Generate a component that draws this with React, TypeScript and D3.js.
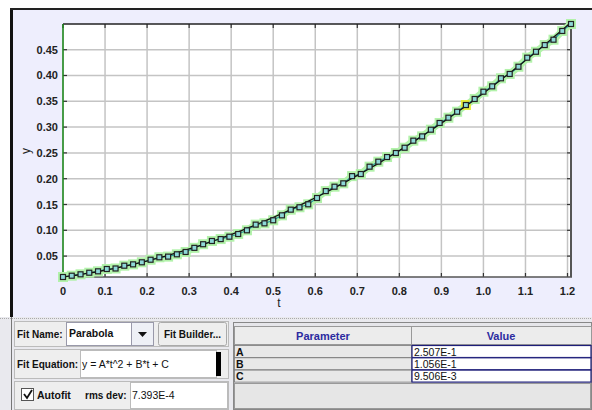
import React from "react";
import * as d3 from "d3";

// Measured samples (s) and positions (m)
const times = [
  0, 0.0208, 0.0417, 0.0625, 0.0833, 0.1042, 0.125, 0.1458, 0.1667, 0.1875,
  0.2083, 0.2292, 0.25, 0.2708, 0.2917, 0.3125, 0.3333, 0.3542, 0.375, 0.3958,
  0.4167, 0.4375, 0.4583, 0.4792, 0.5, 0.5208, 0.5417, 0.5625, 0.5833, 0.6042,
  0.625, 0.6458, 0.6667, 0.6875, 0.7083, 0.7292, 0.75, 0.7708, 0.7917, 0.8125,
  0.8333, 0.8542, 0.875, 0.8958, 0.9167, 0.9375, 0.9583, 0.9792, 1.0, 1.0208,
  1.0417, 1.0625, 1.0833, 1.1042, 1.125, 1.1458, 1.1667, 1.1875, 1.2083,
];
const positions = [
  0.0095, 0.012, 0.0147, 0.0178, 0.0205, 0.025, 0.026, 0.0314, 0.034, 0.038,
  0.043, 0.0477, 0.049, 0.0535, 0.058, 0.066, 0.073, 0.0793, 0.083, 0.0876,
  0.0928, 0.1, 0.111, 0.1135, 0.1194, 0.129, 0.14, 0.1446, 0.1504, 0.1626,
  0.176, 0.1845, 0.191, 0.205, 0.2091, 0.2233, 0.233, 0.242, 0.2498, 0.26,
  0.2737, 0.282, 0.295, 0.308, 0.3182, 0.3298, 0.3428, 0.3545, 0.3686, 0.379,
  0.3946, 0.403, 0.417, 0.4345, 0.446, 0.459, 0.4694, 0.4863, 0.4998,
];
const selectedIndex = 46;

const xTicks = [0, 0.1, 0.2, 0.3, 0.4, 0.5, 0.6, 0.7, 0.8, 0.9, 1.0, 1.1, 1.2];
const yTicks = [0.05, 0.1, 0.15, 0.2, 0.25, 0.3, 0.35, 0.4, 0.45];

const paramNames = ["A", "B", "C"];
const paramValues = [2.507e-1, 1.056e-1, 9.506e-3];
const paramLabels = ["2.507E-1", "1.056E-1", "9.506E-3"];
const fitName = "Parabola";
const fitEquation = "y = A*t^2 + B*t + C";
const rmsDev = "7.393E-4";

const W = 592;
const H = 410;
const plot = { left: 63, right: 571, top: 24, bottom: 277 };
const FONT = "'Liberation Sans', Arial, sans-serif";

export default function App() {
  const x = d3.scaleLinear().domain([0, d3.max(times)!]).range([plot.left, plot.right]);
  const y = d3.scaleLinear().domain([d3.min(positions)!, d3.max(positions)!]).range([plot.bottom, plot.top]);

  const pts = times.map((t, i) => [x(t), y(positions[i])] as [number, number]);
  const dataLine = d3.line()(pts)!;

  const [A, B, C] = paramValues;
  const fitPts = d3.range(0, 121).map((k) => {
    const t = (k / 120) * d3.max(times)!;
    return [x(t), y(A * t * t + B * t + C)] as [number, number];
  });
  const fitLine = d3.line()(fitPts)!;

  const gridColor = "#c4c4c4";
  const halo = "#b2f2aa";

  return (
    <svg width={W} height={H} style={{ position: "absolute", left: 0, top: 0, fontFamily: FONT }}>
      <rect x={0} y={0} width={W} height={H} fill="#ffffff" />
      {/* chart frame */}
      <rect x={11} y={9} width={W - 11} height={308} fill="#eeeefd" />
      <line x1={11.5} y1={8} x2={11.5} y2={317} stroke="#111" strokeWidth={3} />
      <line x1={10} y1={9} x2={W} y2={9} stroke="#222" strokeWidth={2} />

      {/* plot area */}
      <rect x={plot.left} y={plot.top} width={plot.right - plot.left} height={plot.bottom - plot.top} fill="#fff" />
      <defs>
        <clipPath id="plotclip">
          <rect x={plot.left - 6} y={plot.top - 6} width={plot.right - plot.left + 12} height={plot.bottom - plot.top + 12} />
        </clipPath>
      </defs>
      {xTicks.map((t) => (
        <line key={"gx" + t} x1={x(t)} x2={x(t)} y1={plot.top} y2={plot.bottom} stroke={gridColor} strokeWidth={1.5} />
      ))}
      {yTicks.map((v) => (
        <line key={"gy" + v} x1={plot.left} x2={plot.right} y1={y(v)} y2={y(v)} stroke={gridColor} strokeWidth={1.5} />
      ))}
      {/* tick marks on all four sides */}
      {xTicks.map((t) => (
        <g key={"tx" + t} stroke="#333" strokeWidth={1.2}>
          <line x1={x(t)} x2={x(t)} y1={plot.bottom} y2={plot.bottom - 4} />
          <line x1={x(t)} x2={x(t)} y1={plot.top} y2={plot.top + 4} />
        </g>
      ))}
      {yTicks.map((v) => (
        <g key={"ty" + v} stroke="#333" strokeWidth={1.2}>
          <line x1={plot.left} x2={plot.left + 4} y1={y(v)} y2={y(v)} />
          <line x1={plot.right} x2={plot.right - 4} y1={y(v)} y2={y(v)} />
        </g>
      ))}
      {/* plot borders */}
      <line x1={plot.left} x2={plot.right + 1} y1={plot.top} y2={plot.top} stroke="#222" strokeWidth={1.5} />
      <line x1={plot.left} x2={plot.right + 1} y1={plot.bottom} y2={plot.bottom} stroke="#555" strokeWidth={1.5} />
      <line x1={plot.right} x2={plot.right} y1={plot.top} y2={plot.bottom} stroke="#555" strokeWidth={2} />
      <line x1={plot.left} x2={plot.left} y1={plot.top} y2={plot.bottom} stroke="#1a8a1a" strokeWidth={1.5} />

      {/* data */}
      <g clipPath="url(#plotclip)">
        <path d={dataLine} fill="none" stroke={halo} strokeWidth={7} strokeLinejoin="round" strokeLinecap="round" />
        {pts.map(([px, py], i) => (
          <rect key={"h" + i} x={px - 5} y={py - 5} width={10} height={10} fill={i === selectedIndex ? "#e6ea3a" : halo} />
        ))}
        <path d={dataLine} fill="none" stroke="#2aa0a0" strokeWidth={1.2} />
        <path d={fitLine} fill="none" stroke="#111" strokeWidth={1.3} />
        {pts.map(([px, py], i) => (
          <rect key={"p" + i} x={px - 2.5} y={py - 2.5} width={5} height={5} fill="#8ed8d8" stroke="#222" strokeWidth={1.2} />
        ))}
      </g>

      {/* tick labels */}
      {xTicks.map((t) => (
        <text key={"lx" + t} x={x(t)} y={295} textAnchor="middle" fontSize={11} fontWeight="bold" fill="#222">
          {t === 0 ? "0" : t.toFixed(1)}
        </text>
      ))}
      {yTicks.map((v) => (
        <text key={"ly" + v} x={58} y={y(v) + 4} textAnchor="end" fontSize={11} fontWeight="bold" fill="#222">
          {v.toFixed(2)}
        </text>
      ))}
      <text x={(plot.left + plot.right) / 2 - 38} y={307} textAnchor="middle" fontSize={12} fill="#222">t</text>
      <text transform={`translate(30,151) rotate(-90)`} textAnchor="middle" fontSize={12} fill="#222">y</text>

      {/* fit controls */}
      <rect x={0} y={317} width={W} height={H - 317} fill="#e9e9ee" />
      <line x1={0} y1={318.5} x2={W} y2={318.5} stroke="#aaa" strokeDasharray="1,1" />
      <line x1={11.5} y1={317} x2={11.5} y2={H} stroke="#777" strokeWidth={1} />

      <rect x={14.5} y={321.5} width={214} height={25} fill="#eeeeee" stroke="#bbb" />
      <text x={17} y={338} fontSize={10} fontWeight="bold" fill="#111">Fit Name:</text>
      <rect x={66.5} y={322.5} width={65} height={23} fill="#fff" stroke="#99a" />
      <text x={69} y={337} fontSize={10.5} fontWeight="bold" fill="#111">{fitName}</text>
      <rect x={131.5} y={322.5} width={22} height={23} fill="#eef0f6" stroke="#99a" />
      <path d="M138,332 L147,332 L142.5,337 Z" fill="#111" />
      <rect x={158.5} y={322.5} width={68} height={23} fill="#eeeeee" stroke="#aaa" rx={2} />
      <text x={192.5} y={338} textAnchor="middle" fontSize={10} fontWeight="bold" fill="#111">Fit Builder...</text>

      <rect x={14.5} y={349.5} width={214} height={29} fill="#eeeeee" stroke="#bbb" />
      <text x={17} y={368} fontSize={10} fontWeight="bold" fill="#111">Fit Equation:</text>
      <rect x={80.5} y={350.5} width={136} height={27} fill="#fff" stroke="#bbb" />
      <text x={82} y={368} fontSize={10.5} fill="#111">{fitEquation}</text>
      <rect x={216} y={352} width={5} height={24} fill="#000" />

      <rect x={14.5} y={381.5} width={214} height={28} fill="#eeeeee" stroke="#bbb" />
      <rect x={21.5} y={388.5} width={12} height={12} fill="#fff" stroke="#555" />
      <path d="M24,394 L27,398 L32,390" fill="none" stroke="#111" strokeWidth={1.8} />
      <text x={37} y={399} fontSize={10.5} fontWeight="bold" fill="#111">Autofit</text>
      <text x={85} y={399} fontSize={10} fontWeight="bold" fill="#111">rms dev:</text>
      <rect x={130.5} y={382.5} width={97} height={26} fill="#fff" stroke="#bbb" />
      <text x={132} y={399} fontSize={10.5} fill="#111">{rmsDev}</text>

      {/* parameter table */}
      <rect x={233.5} y={322.5} width={W - 234} height={87} fill="#e6e6ea" stroke="#888" />
      <rect x={234.5} y={326.5} width={177} height={18} fill="#ececec" stroke="#999" />
      <rect x={411.5} y={326.5} width={W - 412} height={18} fill="#ececec" stroke="#999" />
      <text x={323} y={340} textAnchor="middle" fontSize={11} fontWeight="bold" fill="#2b2ba0">Parameter</text>
      <text x={501} y={340} textAnchor="middle" fontSize={11} fontWeight="bold" fill="#2b2ba0">Value</text>
      {paramNames.map((n, i) => {
        const ry = 345 + i * 12.3;
        return (
          <g key={n}>
            <rect x={234.5} y={ry + 0.5} width={177} height={12} fill="#e8e8e8" stroke="#777" strokeWidth={0.8} />
            <text x={236} y={ry + 10.5} fontSize={10.5} fontWeight="bold" fill="#111">{n}</text>
            <rect x={412} y={ry + 0.5} width={W - 413} height={12} fill="#fff" stroke="#1e1e7a" strokeWidth={1.2} />
            <text x={414} y={ry + 10.5} fontSize={10.5} fill="#111">{paramLabels[i]}</text>
          </g>
        );
      })}
      <rect x={234.5} y={383.5} width={W - 236} height={25} fill="#e6e6e6" stroke="#999" />
    </svg>
  );
}
